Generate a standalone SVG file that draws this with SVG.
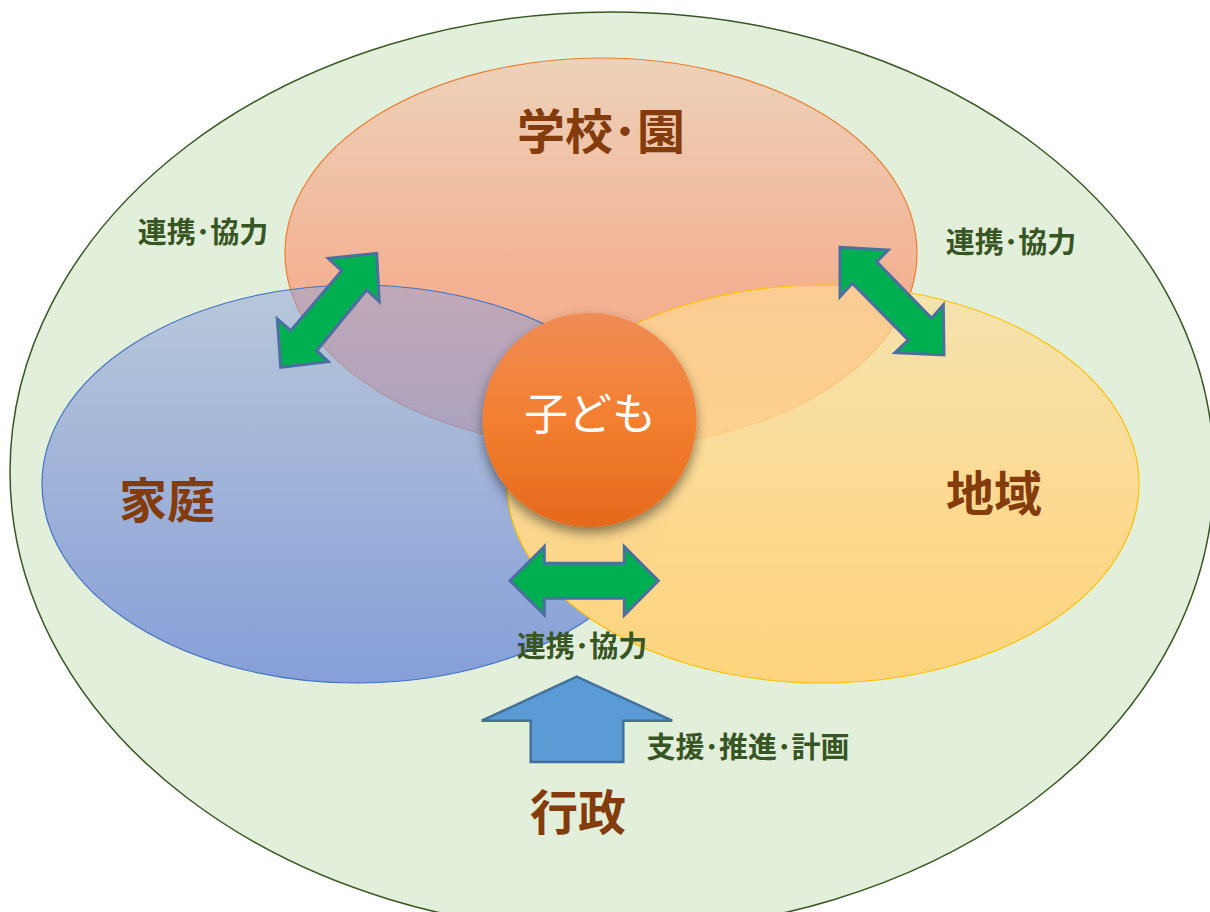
<svg xmlns="http://www.w3.org/2000/svg" width="1210" height="912" viewBox="0 0 1210 912">
<style>
.big{font-family:"Noto Sans CJK JP","Noto Sans",sans-serif;font-size:48px;font-weight:bold;fill:#843C0C;text-anchor:middle}
.lbl{font-family:"Noto Sans CJK JP","Noto Sans",sans-serif;font-size:29px;font-weight:bold;fill:#375623;text-anchor:middle}
.garrow{fill:#00B050;stroke:#4A6FA0;stroke-width:3;stroke-linejoin:miter}
</style>
<defs>
<linearGradient id="gSchool" x1="0" y1="0" x2="0" y2="1">
<stop offset="0" stop-color="#EDD2B9"/>
<stop offset="0.57" stop-color="#F4B294"/>
<stop offset="1" stop-color="#F5AA87"/>
</linearGradient>
<linearGradient id="gFamily" x1="0" y1="0" x2="0" y2="1">
<stop offset="0" stop-color="#8EA0DA" stop-opacity="0.5"/>
<stop offset="0.5" stop-color="#8A9FD8" stop-opacity="0.76"/>
<stop offset="1" stop-color="#859FD8" stop-opacity="1"/>
</linearGradient>
<linearGradient id="gRegion" x1="0" y1="0" x2="0" y2="1">
<stop offset="0" stop-color="#FFDB93" stop-opacity="0.62"/>
<stop offset="0.6" stop-color="#FED88C" stop-opacity="0.97"/>
<stop offset="1" stop-color="#FED47D" stop-opacity="1"/>
</linearGradient>
<linearGradient id="gChild" x1="0" y1="0" x2="0" y2="1">
<stop offset="0" stop-color="#F08C55"/>
<stop offset="0.5" stop-color="#F37F30"/>
<stop offset="1" stop-color="#E5691C"/>
</linearGradient>
<filter id="shadow" x="-30%" y="-30%" width="160%" height="170%">
<feDropShadow dx="0" dy="6" stdDeviation="6" flood-color="#000" flood-opacity="0.45"/>
</filter>
</defs>
<rect width="1210" height="912" fill="#FFFFFF"/>
<g id="outer">
<ellipse cx="612" cy="472" rx="602" ry="460" fill="#E2EFDA" stroke="#385723" stroke-width="1.5"/>
</g>
<g id="school">
<ellipse cx="601" cy="253" rx="316" ry="195" fill="url(#gSchool)" stroke="#ED7D31" stroke-width="1.2"/>
<text class="big" x="601" y="149">学校･園</text>
</g>
<g id="family">
<ellipse cx="357" cy="484" rx="315" ry="199" fill="url(#gFamily)" stroke="#4472C4" stroke-width="1.2"/>
<text class="big" x="167" y="518">家庭</text>
</g>
<g id="region">
<ellipse cx="823" cy="484" rx="316" ry="199" fill="url(#gRegion)" stroke="#FFC000" stroke-width="1.2"/>
<text class="big" x="994" y="511">地域</text>
</g>
<g id="connectors">
<polygon class="garrow" points="376.7,253.3 379.3,301.7 366.7,290 316.7,350.7 328.3,361.7 280.7,367.3 277.3,319 290.7,330.7 341.7,270.7 328.3,258.3"/>
<polygon class="garrow" points="840,247.3 888.3,250 876.7,261.7 931.7,318.3 943.3,305 944,355 895,352.7 908.3,340 852.3,283.3 840,296.7"/>
<polygon class="garrow" points="510,580.7 544.3,546.7 544.3,563.3 624.3,563.3 624.3,546.7 658.3,580.7 624.3,615 624.3,598.3 544.3,598.3 544.3,615"/>
<polygon points="576.7,676.7 672.2,720.7 623.3,720.7 623.3,762 530.7,762 530.7,720.7 481.7,720.7" fill="#5B9BD5" stroke="#41719C" stroke-width="2.5"/>
</g>
<g id="labels">
<text class="lbl" x="203" y="243">連携･協力</text>
<text class="lbl" x="1011" y="253">連携･協力</text>
<text class="lbl" x="582" y="657">連携･協力</text>
<text class="lbl" x="748" y="758">支援･推進･計画</text>
</g>
<g id="child">
<circle cx="589.5" cy="420" r="107" fill="url(#gChild)" filter="url(#shadow)"/>
<text x="590" y="430" font-family="'Noto Sans CJK JP','Noto Sans',sans-serif" font-size="44" fill="#FFFFFF" text-anchor="middle">子ども</text>
</g>
<g id="gov">
<text class="big" x="578" y="830">行政</text>
</g>
</svg>
